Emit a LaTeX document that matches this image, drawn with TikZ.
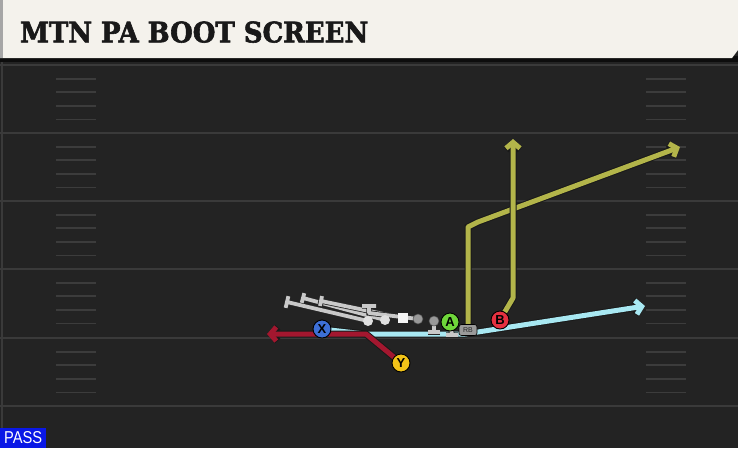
\documentclass[tikz,border=0pt]{standalone}
\usepackage{fontspec}
\setmainfont{Liberation Sans}
\newfontfamily\titlefont{DejaVu Serif Condensed}[FakeBold=2]
\usetikzlibrary{arrows.meta,calc}
\definecolor{fieldbg}{HTML}{232323}
\definecolor{titlebg}{HTML}{F4F2EC}
\definecolor{fline}{HTML}{3A3A3A}
\definecolor{hashc}{HTML}{3C3C3C}
\definecolor{passblue}{HTML}{0A18E6}
\definecolor{crimson}{HTML}{A3172F}
\definecolor{lblue}{HTML}{A8E8F2}
\definecolor{olive}{HTML}{B3B54A}
\definecolor{blockgray}{HTML}{C9C9C9}
\definecolor{xblue}{HTML}{3D6FD6}
\definecolor{yyellow}{HTML}{F2C318}
\definecolor{agreen}{HTML}{6FD63A}
\definecolor{bred}{HTML}{E53140}
\definecolor{rbgray}{HTML}{9A9A9A}
\tikzset{
  yardline/.style={draw=fline, line width=2pt},
  hashline/.style={draw=hashc, line width=1.8pt},
  route/.style={line width=5pt, line join=round,
    -{Straight Barb[length=6pt,width=14pt]},
    preaction={draw=black!90, line width=7pt, -{Straight Barb[length=6pt,width=14pt]}}},
  blockline/.style={draw=blockgray, line width=3.8pt, line join=round,
    preaction={draw=black!85, line width=5.4pt}},
  player/.style={circle, draw=black, line width=0.9pt, minimum size=18pt, inner sep=0pt,
    font=\bfseries\fontsize{13}{13}\selectfont, text=black},
  lineman/.style={circle, fill=#1, draw=black!70, line width=0.5pt, minimum size=10pt, inner sep=0pt},
}
\begin{document}
\begin{tikzpicture}[x=1pt,y=-1pt]
\useasboundingbox (0,0) rectangle (738,448);
\fill[fieldbg] (0,0) rectangle (738,448);
% field lines
\foreach \b in {65,133,201,269,338}{
  \foreach \k in {1,2,3,4}{
    \pgfmathsetmacro\yy{\b+13.6*\k}
    \draw[hashline] (56,\yy) -- (96,\yy);
    \draw[hashline] (646,\yy) -- (686,\yy);
  }
}
\foreach \y in {65,133,201,269,338,406}{
  \draw[yardline] (0,\y) -- (738,\y);
}
\draw[draw=fline, line width=1.5pt] (2,62) -- (2,448);
% title bar
\fill[black!95] (0,56) rectangle (738,62);
\fill[titlebg] (0,0) -- (738,0) -- (738,50) -- (732,58) -- (0,58) -- cycle;
\fill[black!35] (0,0) rectangle (3,58);
\node[anchor=south west, inner sep=0pt, text=black!90] (title) at (20,43)
  {\resizebox{348pt}{21pt}{\titlefont\bfseries MTN PA BOOT SCREEN}};
% PASS tag
\node[fill=passblue, anchor=south west, minimum width=46pt, minimum height=20pt, inner sep=0pt] (pass) at (0,448) {};
\node[text=white, inner sep=0pt] (passtxt) at (pass.center) {\resizebox{38pt}{12pt}{PASS}};

% players
\coordinate (Xp) at (322,329);
\coordinate (Yp) at (401,363);
\coordinate (Ap) at (450,322);
\coordinate (Bp) at (500,320);
\coordinate (RBp) at (468,330);

% route waypoints
\coordinate (xs) at (330,330);
\coordinate (x1) at (365,334);
\coordinate (x2) at (465,334);
\coordinate (xe) at (645,306);
\coordinate (y1) at (366,334);
\coordinate (ye) at (267,334);
\coordinate (r1) at (468,227);
\coordinate (r2) at (478,222);
\coordinate (re) at (680,147);
\coordinate (b1) at (513,298);
\coordinate (be) at (513,139);

% light blue route
\draw[route, draw=lblue] (xs) -- (x1) -- (x2) -- (xe);
% crimson route
\draw[route, draw=crimson] (Yp) -- (y1) -- (ye);
% olive routes
\draw[route, draw=olive] (RBp) -- (r1) -- (r2) -- (re);
\draw[route, draw=olive] (Bp) -- (b1) -- (be);

% blocking lines
\coordinate (LTp) at (368,321);
\coordinate (LGp) at (385,320);
\coordinate (Cp) at (403,318);
\coordinate (RGp) at (418,319);
\coordinate (RTp) at (434,321);
\coordinate (t1) at (287,302);
\coordinate (t2) at (303,298);
\coordinate (t3) at (321,301);
\coordinate (t4a) at (369,313);
\coordinate (t4) at (369,306);
\coordinate (t5) at (434,332);
\coordinate (t6) at (452,335);
\draw[blockline] (LTp) -- (t1) ($(t1)!6pt!90:(LTp)$) -- ($(t1)!6pt!-90:(LTp)$);
\draw[blockline] (LGp) -- (t2) ($(t2)!5pt!90:(LGp)$) -- ($(t2)!5pt!-90:(LGp)$);
\draw[blockline] (Cp) -- (t3) ($(t3)!5pt!90:(Cp)$) -- ($(t3)!5pt!-90:(Cp)$);
\draw[blockline] (RGp) -- (t4a) -- (t4) (362,306) -- (376,306);
\draw[blockline] (RTp) -- (t5) (428,332) -- (440,332);
\draw[blockline] (Ap) -- (t6) (446,335) -- (458,335);

% linemen
\node[lineman=black!12, draw=none] (LT) at (LTp) {};
\node[lineman=black!12, draw=none] (LG) at (LGp) {};
\node[rectangle, fill=black!4, minimum size=10pt, inner sep=0pt] (C) at (Cp) {};
\node[lineman=black!40] (RG) at (RGp) {};
\node[lineman=black!40] (RT) at (RTp) {};

% skill players
\node[rounded corners=2.5pt, fill=rbgray, draw=black, line width=0.6pt, minimum width=18pt, minimum height=11pt, inner sep=0pt,
  font=\fontsize{7}{7}\selectfont, text=black!85] (RB) at (RBp) {RB};
\node[player, fill=xblue] (X) at (Xp) {X};
\node[player, fill=yyellow] (Y) at (Yp) {Y};
\node[player, fill=agreen] (A) at (Ap) {A};
\node[player, fill=bred] (B) at (Bp) {B};
\end{tikzpicture}
\end{document}
